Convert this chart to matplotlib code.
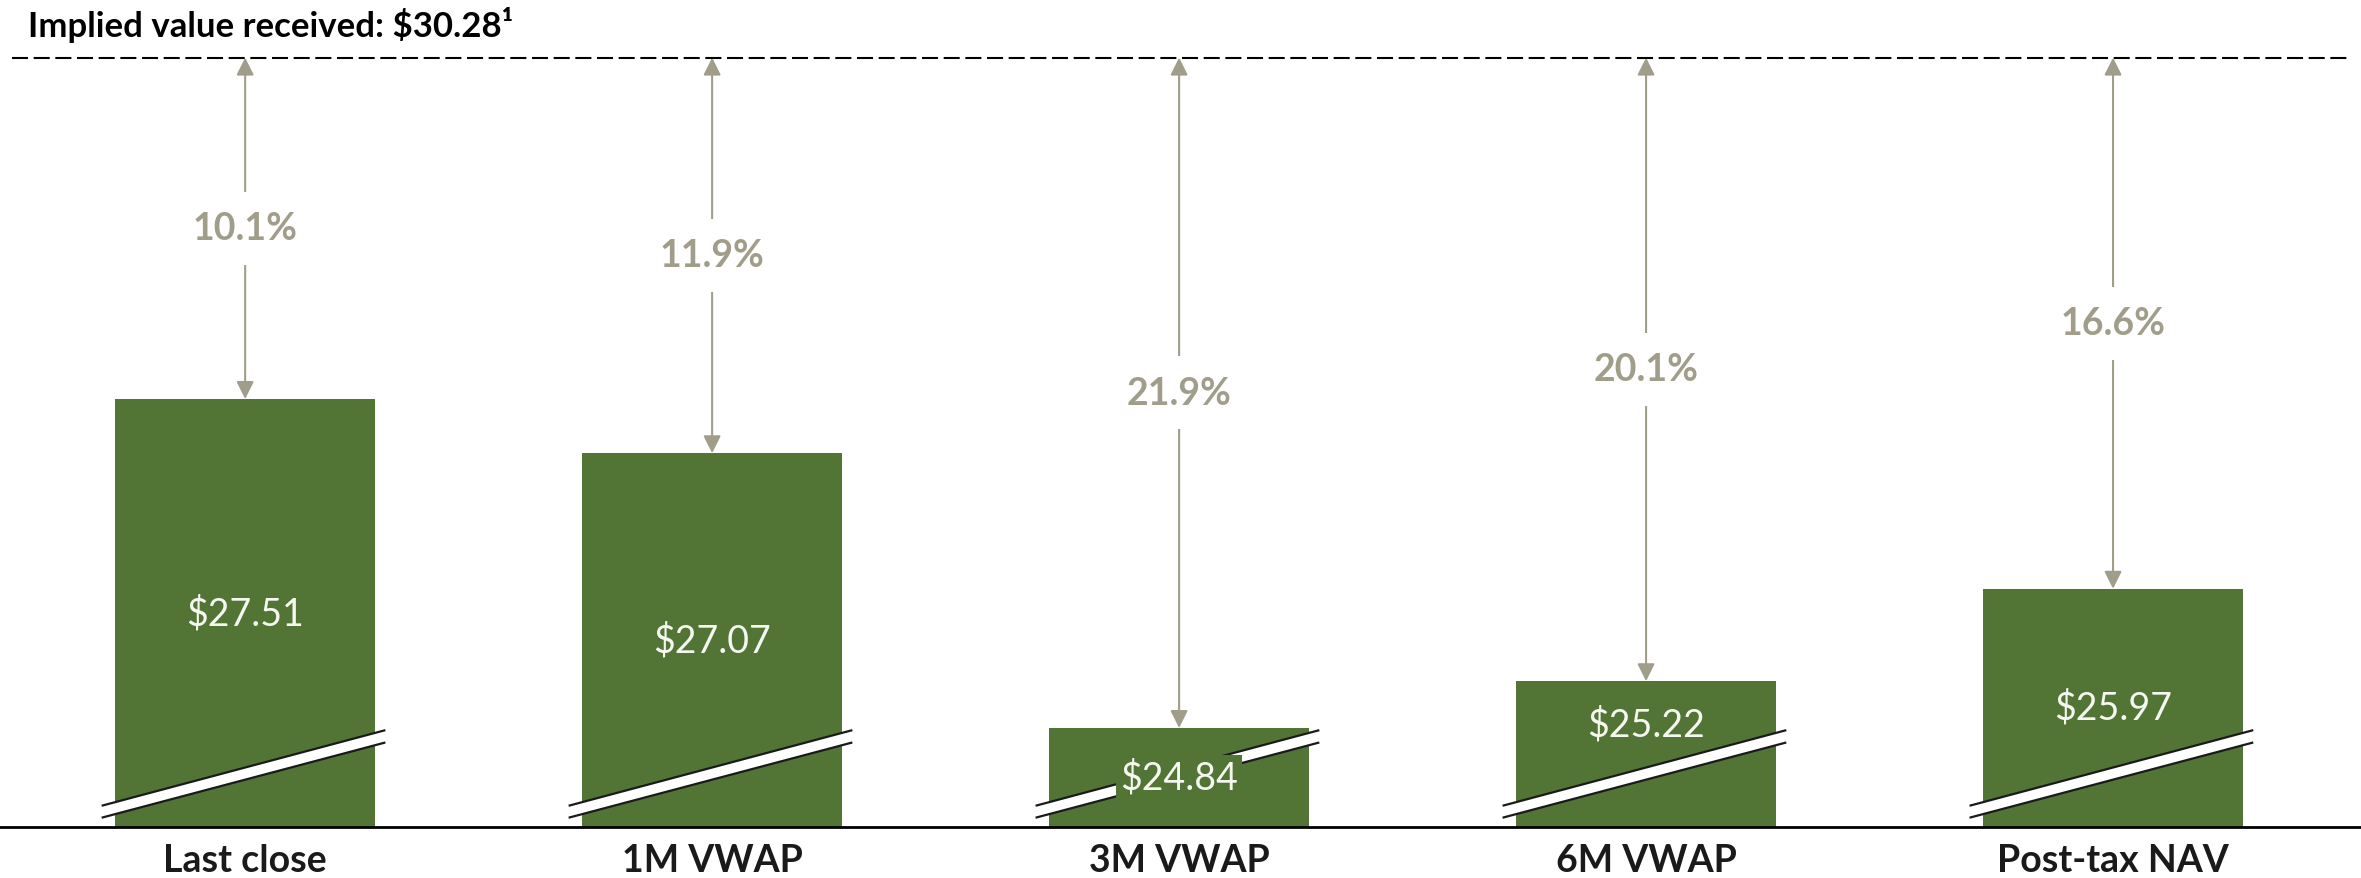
import numpy as np
import matplotlib.pyplot as plt
from matplotlib.patches import Polygon

# datos
categorias = ['Last close', '1M VWAP', '3M VWAP', '6M VWAP', 'Post-tax NAV']
precios = [27.51, 27.07, 24.84, 25.22, 25.97]
primas = ['10.1%', '11.9%', '21.9%', '20.1%', '16.6%']
valor_implicito = 30.28

verde = '#527536'
gris = '#A09E8A'
base = 24.039

plt.rcParams['font.family'] = ['Lato', 'DejaVu Sans']

fig = plt.figure(figsize=(23.61, 8.79), dpi=100)
ax = fig.add_axes([0, 0.0584, 1, 0.9416])

x = np.arange(len(categorias))
ax.bar(x, precios, width=0.557, color=verde, zorder=2)
ax.set_xlim(-0.525, 4.531)
ax.set_ylim(base, 30.756)

# linea del valor implicito
ax.plot([-0.50, 4.505], [valor_implicito, valor_implicito], color='black',
        lw=1.5, linestyle=(0, (7.7, 2.7)), zorder=3)

for i, (cat, p, txt) in enumerate(zip(categorias, precios, primas)):
    # flecha doble entre la barra y el valor implicito
    ax.annotate('', xy=(i, p), xytext=(i, valor_implicito),
                arrowprops=dict(arrowstyle='<|-|>,head_length=0.7,head_width=0.35',
                                color=gris, lw=1.5, shrinkA=0, shrinkB=0,
                                mutation_scale=15), zorder=3)
    ax.text(i, (p + valor_implicito) / 2, txt, ha='center', va='center',
            fontsize=27, fontweight='bold', color=gris, zorder=4,
            bbox=dict(facecolor='white', edgecolor='none', pad=14))

    # corte del eje (doble linea)
    x0, x1 = i - 0.305, i + 0.298
    y_lo = [24.114, 24.72]
    y_hi = [24.211, 24.82]
    band = Polygon([[x0, y_lo[0]], [x1, y_lo[1]], [x1, y_hi[1]], [x0, y_hi[0]]],
                   closed=True, facecolor='white', edgecolor='none', zorder=3)
    ax.add_patch(band)
    ax.plot([x0, x1], y_lo, color='#1a1a1a', lw=1.6, zorder=3)
    ax.plot([x0, x1], y_hi, color='#1a1a1a', lw=1.6, zorder=3)

    # etiqueta del precio
    y_lab = (p + base) / 2
    if cat == '6M VWAP':
        y_lab = p - 0.35   # movida arriba del corte
    ax.text(i, y_lab, f'${p:.2f}', ha='center', va='center', fontsize=27,
            fontweight='normal', color='#F7F7F2', zorder=5,
            bbox=dict(facecolor=verde, edgecolor='none', pad=3))

ax.set_xticks(x)
ax.set_xticklabels(categorias, fontsize=27, fontweight='bold', color='#1a1a1a')
ax.tick_params(axis='x', length=0, pad=12)
ax.set_yticks([])
for s in ['top', 'left', 'right']:
    ax.spines[s].set_visible(False)
ax.spines['bottom'].set_linewidth(2)
ax.spines['bottom'].set_zorder(6)

fig.text(0.012, 0.972, 'Implied value received: $30.28\u00b9', ha='left', va='center',
         fontsize=25, fontweight='bold', color='black')

plt.savefig('out.png', dpi=100)
